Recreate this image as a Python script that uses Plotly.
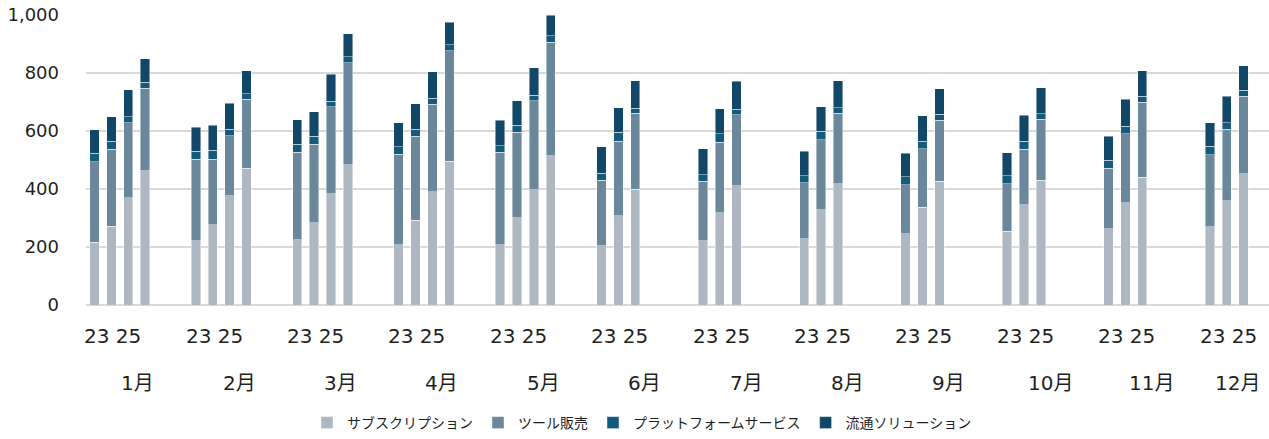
import plotly.graph_objects as go

months = ["1月", "2月", "3月", "4月", "5月", "6月", "7月", "8月", "9月", "10月", "11月", "12月"]
years = ["23", "24", "25", "26"]
year_label_text = "23 25"
series_names = ["サブスクリプション", "ツール販売", "プラットフォームサービス", "流通ソリューション"]
colors = ["#AEB8C3", "#6A879B", "#155A7B", "#124867"]

# values per month, per year (23, 24, 25, 26); None = no data
subscription = [
    [217, 272, 370, 463], [222, 277, 376, 471], [225, 284, 383, 484], [208, 293, 390, 496],
    [208, 301, 397, 515], [204, 308, 400, None], [221, 318, 411, None], [229, 329, 418, None],
    [245, 337, 426, None], [255, 345, 431, None], [263, 352, 440, None], [269, 360, 453, None],
]
tool_sales = [
    [277, 265, 258, 284], [280, 226, 207, 238], [302, 271, 301, 352], [311, 289, 302, 381],
    [319, 295, 307, 391], [227, 256, 261, None], [206, 244, 245, None], [192, 240, 243, None],
    [170, 202, 211, None], [163, 192, 210, None], [209, 238, 259, None], [249, 246, 267, None],
]
platform = [
    [30, 27, 22, 21], [28, 31, 23, 20], [28, 27, 18, 20], [26, 24, 21, 21],
    [23, 23, 19, 23], [24, 31, 17, None], [23, 29, 19, None], [24, 30, 20, None],
    [27, 26, 21, None], [27, 27, 19, None], [28, 27, 21, None], [30, 23, 21, None],
]
distribution = [
    [81, 85, 92, 81], [83, 86, 90, 79], [83, 85, 94, 79], [84, 88, 92, 77],
    [87, 86, 95, 71], [90, 85, 96, None], [88, 86, 96, None], [85, 85, 93, None],
    [81, 88, 88, None], [80, 90, 89, None], [82, 92, 88, None], [81, 91, 84, None],
]

SLOTS = 6  # bar slots per month group (4 years + gap)
xs = []
for m in range(len(months)):
    for y in range(len(years)):
        xs.append(m * SLOTS + y)

def flat(arr):
    return [v for row in arr for v in row]

fig = go.Figure()
for name, color, data in zip(series_names, colors, [subscription, tool_sales, platform, distribution]):
    fig.add_trace(go.Bar(
        x=xs, y=flat(data), name=name, width=0.56,
        marker=dict(color=color, line=dict(color="rgba(255,255,255,0.55)", width=0.8)),
        hovertemplate="%{y}<extra>" + name + "</extra>",
    ))

font_family = "DejaVu Sans, Noto Sans CJK JP, sans-serif"
text_color = "#1f1f1f"

W, HGT = 1269, 439
TOP, BOTTOM = 15, 309
H = BOTTOM - TOP

def paper_y(py):
    return (BOTTOM - py) / H

annotations = []
for m, label in enumerate(months):
    center = m * SLOTS + 1.5
    annotations.append(dict(
        x=center - 0.42, y=paper_y(340), xref="x", yref="paper", text=year_label_text,
        showarrow=False, font=dict(family=font_family, size=20, color=text_color),
        xanchor="center", yanchor="middle",
    ))
    mx = center + 1.06 if m < len(months) - 1 else center + 0.15
    annotations.append(dict(
        x=mx, y=paper_y(388), xref="x", yref="paper", text=label,
        showarrow=False, font=dict(family=font_family, size=20, color=text_color),
        xanchor="center", yanchor="middle",
    ))

fig.update_layout(
    width=W, height=HGT,
    margin=dict(l=86, r=0, t=TOP, b=HGT - BOTTOM, pad=0),
    barmode="stack",
    plot_bgcolor="white", paper_bgcolor="white",
    font=dict(family=font_family, color=text_color),
    xaxis=dict(range=[-0.5, 69.5], showticklabels=False, showgrid=False, zeroline=False,
               showline=False, fixedrange=True),
    yaxis=dict(range=[0, 1000], tickvals=[0, 200, 400, 600, 800, 1000], tickformat=",d",
               showgrid=True, gridcolor="#D9D9D9", gridwidth=1.6, zeroline=True,
               zerolinecolor="#D9D9D9", zerolinewidth=1.6, showline=False,
               tickfont=dict(size=18, family=font_family, color=text_color),
               ticklabelstandoff=26, ticklabeloverflow="allow", fixedrange=True),
    legend=dict(orientation="h", x=0.47, xanchor="center", y=paper_y(429), yanchor="middle",
                font=dict(size=14, family=font_family, color=text_color),
                itemwidth=30, traceorder="normal", itemclick=False, itemdoubleclick=False),
    annotations=annotations,
    showlegend=True,
)

fig.write_html(
    "out.html",
    config={"displayModeBar": False},
    post_script="document.body.style.margin='0px';document.body.style.overflow='hidden';",
)
